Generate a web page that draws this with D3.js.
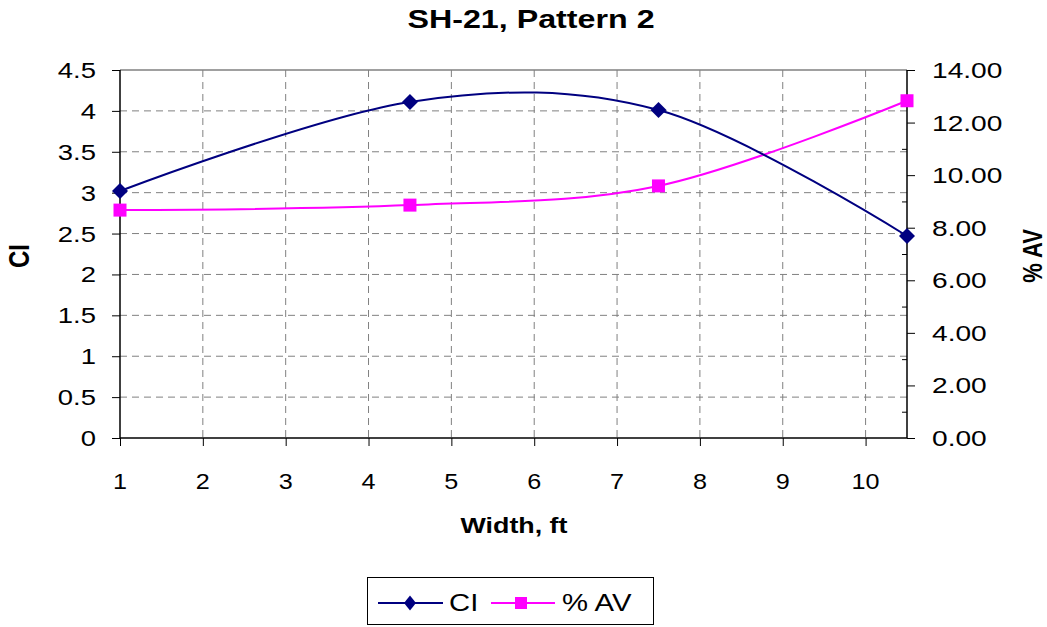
<!DOCTYPE html>
<html>
<head>
<meta charset="utf-8">
<script src="https://cdn.jsdelivr.net/npm/d3@7"></script>
<style>
  html, body { margin: 0; padding: 0; background: #fff; }
  svg { display: block; font-family: Arial, "Liberation Sans", sans-serif; }
</style>
</head>
<body>
<svg id="chart" width="1047" height="627"></svg>
<script>
// ---- data ----
const widths = [1, 4.5, 7.5, 10.5];
const ciValues = [3.02, 4.11, 4.01, 2.47];
const avValues = [8.67, 8.86, 9.59, 12.83];
const xTicks = [1, 2, 3, 4, 5, 6, 7, 8, 9, 10];
const leftTicks = [0, 0.5, 1, 1.5, 2, 2.5, 3, 3.5, 4, 4.5];
const rightTicks = [0, 2, 4, 6, 8, 10, 12, 14];
const rightMinorTicks = [1, 3, 5, 7, 9, 11, 13];
const titleText = "SH-21, Pattern 2";
const xTitle = "Width, ft";
const yLeftTitle = "CI";
const yRightTitle = "% AV";
const seriesNames = ["CI", "% AV"];

// ---- layout ----
const svg = d3.select("#chart");
const L = 120, R = 907, T = 70, B = 438;
const SX = 1.22; // horizontal stretch of text in the reference
const navy = "#000080", magenta = "#FF00FF";

const x = d3.scaleLinear().domain([1, 10.5]).range([L, R]);
const yL = d3.scaleLinear().domain([0, 4.5]).range([B, T]);
const yR = d3.scaleLinear().domain([0, 14]).range([B, T]);

function txt(g, s, px, py, opts) {
  const o = Object.assign({size: 22, weight: "normal", anchor: "middle", rot: 0, sx: SX}, opts || {});
  return g.append("text")
    .attr("transform", `translate(${px},${py}) scale(${o.sx},1)` + (o.rot ? ` rotate(${o.rot})` : ""))
    .attr("text-anchor", o.anchor)
    .attr("font-size", o.size)
    .attr("font-weight", o.weight)
    .attr("fill", "#000")
    .text(s);
}

svg.append("rect").attr("width", 1047).attr("height", 627).attr("fill", "#fff");

// gridlines
const grid = svg.append("g");
grid.selectAll("line.h").data(leftTicks.filter(d => d > 0 && d < 4.5)).join("line")
  .attr("x1", L).attr("x2", R).attr("y1", d => yL(d)).attr("y2", d => yL(d))
  .attr("stroke", "#808080").attr("stroke-width", 1).attr("stroke-dasharray", "7,5");
grid.selectAll("line.v").data(xTicks.filter(d => d > 1)).join("line")
  .attr("y1", T).attr("y2", B).attr("x1", d => x(d)).attr("x2", d => x(d))
  .attr("stroke", "#808080").attr("stroke-width", 1).attr("stroke-dasharray", "7,5");
// top border
svg.append("line").attr("x1", L).attr("x2", R).attr("y1", T).attr("y2", T)
  .attr("stroke", "#808080").attr("stroke-width", 1.5);

// axes
const xAxis = d3.axisBottom(x).tickValues(xTicks).tickSize(8).tickFormat("");
const gx = svg.append("g").attr("transform", `translate(0,${B})`).call(xAxis);
const yAxisL = d3.axisLeft(yL).tickValues(leftTicks).tickSize(8).tickFormat("");
const gyl = svg.append("g").attr("transform", `translate(${L},0)`).call(yAxisL);
const yAxisR = d3.axisRight(yR).tickValues(rightTicks).tickSize(8).tickFormat("");
const gyr = svg.append("g").attr("transform", `translate(${R},0)`).call(yAxisR);
const yAxisRMinor = d3.axisLeft(yR).tickValues(rightMinorTicks).tickSize(5).tickFormat("");
const gyrm = svg.append("g").attr("transform", `translate(${R},0)`).call(yAxisRMinor);
gyrm.select(".domain").remove();
[gx, gyl, gyr, gyrm].forEach(g => {
  g.selectAll("path.domain").attr("stroke", "#000").attr("stroke-width", 1.5);
  g.selectAll(".tick line").attr("stroke", "#000").attr("stroke-width", 1);
});
gx.select("path.domain").attr("d", `M${L},0H${R}`);
gyl.select("path.domain").attr("d", `M0,${B}V${T}`);
gyr.select("path.domain").attr("d", `M0,${B}V${T}`);

// tick labels
const labels = svg.append("g");
xTicks.forEach(d => txt(labels, String(d), x(d), 489, {size: 22.5, sx: 1.12}));
leftTicks.forEach(d => txt(labels, String(d), 96, yL(d) + 8, {anchor: "end", size: 22.5}));
rightTicks.forEach(d => txt(labels, d.toFixed(2), 932, yR(d) + 8, {anchor: "start", size: 22.5, sx: 1.25}));

// titles
txt(svg, titleText, 531, 28, {size: 26, weight: "bold", sx: 1.24});
txt(svg, xTitle, 514, 533, {size: 22, weight: "bold"});
txt(svg, yLeftTitle, 29, 256, {size: 24, weight: "bold", rot: -90});
txt(svg, yRightTitle, 1042, 256, {size: 22, weight: "bold", rot: -90});

// series
const curve = d3.curveCardinal.tension(0);
const ciData = widths.map((w, i) => [w, ciValues[i]]);
const avData = widths.map((w, i) => [w, avValues[i]]);
const lineL = d3.line().x(d => x(d[0])).y(d => yL(d[1])).curve(curve);
const lineR = d3.line().x(d => x(d[0])).y(d => yR(d[1])).curve(curve);

svg.append("path").datum(avData).attr("d", lineR)
  .attr("fill", "none").attr("stroke", magenta).attr("stroke-width", 2);
svg.append("path").datum(ciData).attr("d", lineL)
  .attr("fill", "none").attr("stroke", navy).attr("stroke-width", 2);

const diamond = (cx, cy, w, h) => `M${cx},${cy - h}L${cx + w},${cy}L${cx},${cy + h}L${cx - w},${cy}Z`;
svg.append("g").selectAll("rect").data(avData).join("rect")
  .attr("x", d => x(d[0]) - 6.5).attr("y", d => yR(d[1]) - 6.5)
  .attr("width", 13).attr("height", 13).attr("fill", magenta);
svg.append("g").selectAll("path").data(ciData).join("path")
  .attr("d", d => diamond(x(d[0]), yL(d[1]), 8, 8)).attr("fill", navy);

// legend
const lg = svg.append("g");
lg.append("rect").attr("x", 367.5).attr("y", 577.5).attr("width", 286).attr("height", 47)
  .attr("fill", "#fff").attr("stroke", "#000").attr("stroke-width", 1);
lg.append("line").attr("x1", 378).attr("x2", 443).attr("y1", 603).attr("y2", 603)
  .attr("stroke", navy).attr("stroke-width", 2);
lg.append("path").attr("d", diamond(410, 603, 6, 7.5)).attr("fill", navy);
txt(lg, seriesNames[0], 449, 611, {anchor: "start", size: 24});
lg.append("line").attr("x1", 491).attr("x2", 555).attr("y1", 603).attr("y2", 603)
  .attr("stroke", magenta).attr("stroke-width", 2);
lg.append("rect").attr("x", 515).attr("y", 597).attr("width", 12).attr("height", 12).attr("fill", magenta);
txt(lg, seriesNames[1], 562, 611, {anchor: "start", size: 24});
</script>
</body>
</html>
